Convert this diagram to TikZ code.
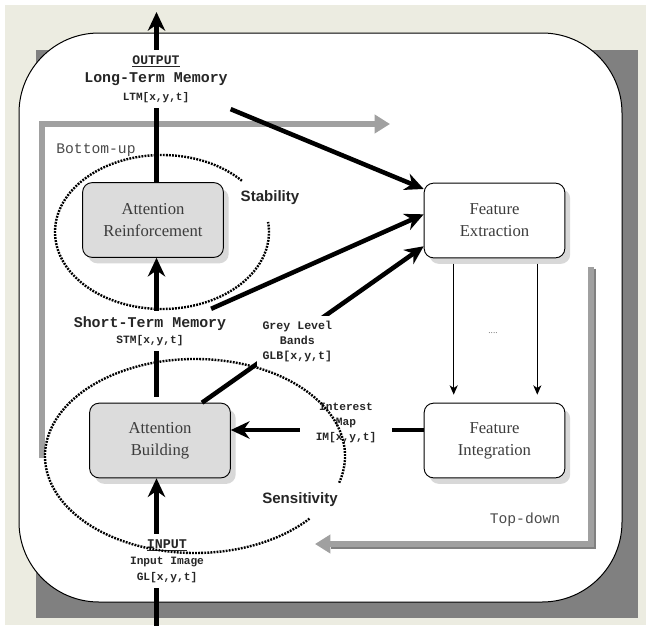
\documentclass[tikz,border=0pt]{standalone}
\usepackage{fontspec}
\setmainfont{Liberation Serif}
\setsansfont{Liberation Sans}
\setmonofont{Liberation Mono}
\usetikzlibrary{arrows.meta,calc,shadows}

\definecolor{paper}{HTML}{ECECE1}
\definecolor{frameshade}{HTML}{808080}
\definecolor{boxfill}{HTML}{DCDCDC}
\definecolor{boxshadow}{HTML}{D8D8D8}
\definecolor{flowgray}{HTML}{A0A0A0}
\definecolor{flowdark}{HTML}{808080}
\definecolor{boxtext}{HTML}{3C3C3C}
\definecolor{cuetext}{HTML}{4A4A4A}

\newcommand{\fsz}[2]{\fontsize{#1}{#2}\selectfont}

\begin{document}
\begin{tikzpicture}[x=0.75pt,y=-0.75pt,
  procbox/.style={draw=black, line width=0.7pt, rounded corners=7pt,
    minimum width=105.5pt, minimum height=56pt, inner sep=0pt, align=center,
    text=boxtext, font=\fsz{12.5}{16.5},
    copy shadow={shadow xshift=4pt, shadow yshift=-4.5pt, draw=none, fill=boxshadow}},
  activebox/.style={procbox, fill=boxfill},
  passivebox/.style={procbox, fill=white},
  memlabel/.style={align=center, inner xsep=2pt, inner ysep=4pt, text=black!85},
  heavy/.style={line width=3.4pt, black},
  bigtip/.style={-{Stealth[length=14pt,width=13pt,inset=4.5pt]}},
  thinflow/.style={line width=1.1pt, -{Stealth[length=7pt,width=6pt,inset=2pt]}},
  modeflow/.style={line width=5pt, flowgray},
  modetip/.style={-{Triangle[length=11.5pt,width=13.5pt]}},
  attnzone/.style={line width=1.8pt, dash pattern=on 1.4pt off 0.9pt},
  zonelabel/.style={font=\sffamily\bfseries\fsz{11.3}{13}, text=black!85},
  modelabel/.style={font=\ttfamily\fsz{11}{12}, text=cuetext}
]
\useasboundingbox (0,0) rectangle (646,625);

% page, frame shadow and rounded panel
\fill[white] (0,0) rectangle (646,625);
\fill[paper] (5,5) rectangle (646,625);
\fill[frameshade] (36,50) rectangle (638,618);
\draw[line width=0.75pt, fill=white, rounded corners=60pt] (19,33) rectangle (622,602);

% processing modes
\coordinate (buStart) at (42,458);
\coordinate (buBend)  at (42,124);
\coordinate (buEnd)   at (390,124);
\draw[modeflow, modetip] (buStart) -- (buBend) -- (buEnd);

\coordinate (tdStart) at (591,267);
\coordinate (tdBend)  at (591,544);
\coordinate (tdEnd)   at (315,544);
\draw[modeflow, draw=flowdark, transform canvas={shift={(1.2pt,-1.2pt)}}]
  (tdStart) -- (tdBend) -- ($(tdEnd)+(14,0)$);
\draw[modeflow, modetip] (tdStart) -- (tdBend) -- (tdEnd);

\node[modelabel] (bottomup) at (96,150) {Bottom-up};
\node[modelabel] (topdown) at (525,520) {Top-down};

% processing stages
\node[activebox]  (ar) at (153,220)   {Attention\\Reinforcement};
\node[passivebox] (fe) at (494.5,220.5) {Feature\\Extraction};
\node[activebox]  (ab) at (160,440.5) {Attention\\Building};
\node[passivebox] (fi) at (494.5,440.5) {Feature\\Integration};

% memories and maps
\node[memlabel, font=\ttfamily\bfseries\fsz{11.2}{13.5}] (ltm) at (156,79)
  {{\fsz{9.8}{13.5}\underline{OUTPUT}}\\Long-Term Memory\\{\fsz{8.3}{13.5}LTM[x,y,t]}};
\node[memlabel, font=\ttfamily\bfseries\fsz{11.2}{12}] (stm) at (150,331)
  {Short-Term Memory\\{\fsz{8.4}{12}STM[x,y,t]}};
\node[memlabel, font=\ttfamily\bfseries\fsz{8.4}{11.5}, minimum width=69pt] (im) at (346,423)
  {Interest\\Map\\IM[x,y,t]};
\node[memlabel, font=\ttfamily\bfseries\fsz{8.4}{12}] (inp) at (167,561)
  {{\fsz{10}{12}\underline{INPUT}}\\Input Image\\GL[x,y,t]};

\node[font=\fsz{7}{8}, text=black!55] (more) at (493,333) {....};

% flows
\coordinate (spine)  at (156.5,0);
\coordinate (outlet) at (156.5,12);
\coordinate (inlet)  at (156.5,626);
\coordinate (imrow)  at (0,430);

\draw[heavy] (ar.north -| spine) -- (ltm.south -| spine);
\draw[heavy, bigtip] (ltm.north -| spine) -- (outlet);
\draw[heavy, bigtip] ($(ltm.south east)+(0,1)$) -- (fe.156.6);

\draw[heavy, bigtip] (stm.north -| spine) -- (ar.south -| spine);
\draw[heavy, shorten <=4.5pt] (ab.north -| spine) -- (stm.south -| spine);
\draw[heavy, bigtip] ($(stm.north east)+(-18,-2)$) -- (fe.175.5);

\draw[heavy, bigtip] (ab.42) -- node[pos=0.43, yshift=-4.5pt, fill=white, inner sep=4pt,
    align=center, font=\ttfamily\bfseries\fsz{8.7}{11.25}, text=black!85] (glb)
  {Grey Level\\Bands\\GLB[x,y,t]} (fe.200.6);

\draw[heavy] (fi.west |- imrow) -- (im.east |- imrow);
\draw[heavy, bigtip] (im.west |- imrow) -- (ab.east |- imrow);

\draw[heavy, bigtip] (inp.north -| spine) -- (ab.south -| spine);
\draw[heavy] (inlet) -- (inp.south -| spine);

\draw[thinflow, shorten <=4pt, shorten >=6pt] ([xshift=22.5pt]fe.south west) -- ([xshift=22.5pt]fi.north west);
\draw[thinflow, shorten <=4pt, shorten >=6pt] ([xshift=-21pt]fe.south east) -- ([xshift=-21pt]fi.north east);

% attention zones
\coordinate (stabC) at (162,232);
\draw[attnzone] (stabC) ++(-41.7:107 and 77)
  arc[start angle=-41.7, end angle=-367.5, x radius=107, y radius=77];
\coordinate (sensC) at (195,456);
\draw[attnzone] (sensC) ++(16:150 and 97)
  arc[start angle=16, end angle=-320, x radius=150, y radius=97];

\node[zonelabel] (stab) at (270,198) {Stability};
\node[zonelabel] (sens) at (300,500) {Sensitivity};
\end{tikzpicture}
\end{document}
